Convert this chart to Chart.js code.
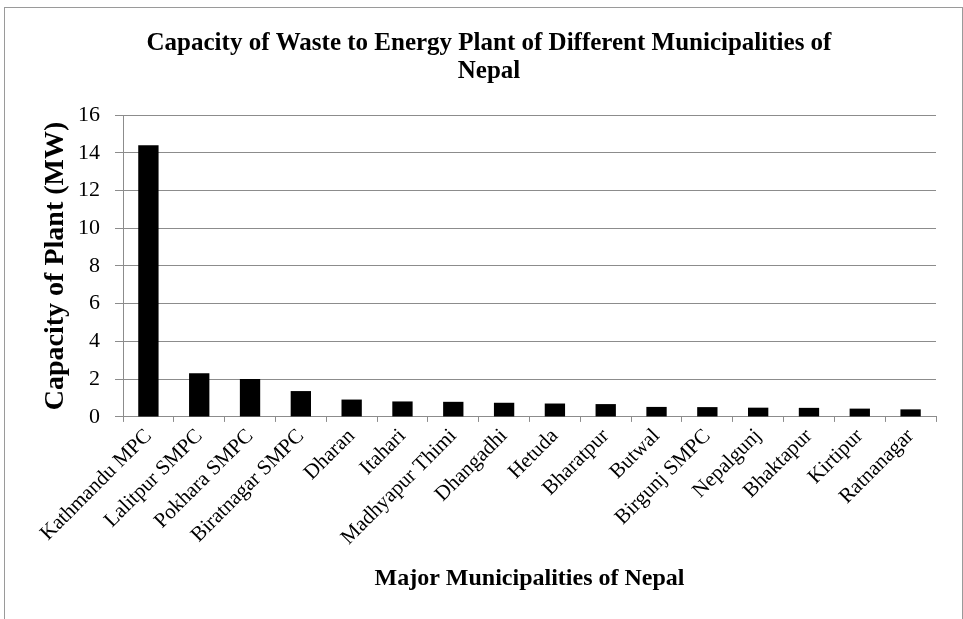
<!DOCTYPE html>
<html>
<head>
<meta charset="utf-8">
<title>Waste to Energy Plant Capacity</title>
<script src="https://cdn.jsdelivr.net/npm/chart.js@4.4.1/dist/chart.umd.min.js"></script>
<style>
    body { margin: 0; background: #fff; overflow: hidden; }
    #frame {
        position: absolute; left: 4px; top: 7px;
        width: 957px; height: 700px;
        border: 1px solid #9a9a9a;
    }
    #wrap { position: absolute; left: 0; top: 0; width: 963px; height: 619px; }
</style>
</head>
<body>
<div id="frame"></div>
<div id="wrap"><canvas id="myChart" width="963" height="619"></canvas></div>
<script>
// municipalities and plant capacity (MW)
const municipalities = [
    "Kathmandu MPC", "Lalitpur SMPC", "Pokhara SMPC", "Biratnagar SMPC",
    "Dharan", "Itahari", "Madhyapur Thimi", "Dhangadhi", "Hetuda",
    "Bharatpur", "Butwal", "Birgunj SMPC", "Nepalgunj", "Bhaktapur",
    "Kirtipur", "Ratnanagar"
];
const capacityMW = [
    14.4, 2.31, 2.01, 1.37,
    0.92, 0.82, 0.80, 0.75, 0.71,
    0.68, 0.53, 0.52, 0.49, 0.48,
    0.44, 0.40
];
const yTicks = [0, 2, 4, 6, 8, 10, 12, 14, 16];

const serif = "'Liberation Serif', 'Times New Roman', serif";
const gridGray = "#8c8c8c";

const ctx = document.getElementById("myChart").getContext("2d");
new Chart(ctx, {
    type: "bar",
    data: {
        labels: municipalities,
        datasets: [
            {
                label: "Capacity of Plant (MW)",
                data: capacityMW,
                backgroundColor: "#000000",
                barPercentage: 0.4,
                categoryPercentage: 1.0
            }
        ]
    },
    options: {
        responsive: false,
        animation: false,
        layout: { padding: { left: 42, right: 27, top: 0, bottom: 26 } },
        plugins: {
            legend: { display: false },
            tooltip: { enabled: false },
            title: {
                display: true,
                text: ["Capacity of Waste to Energy Plant of Different Municipalities of", "Nepal"],
                color: "#000",
                font: { family: serif, size: 25, weight: "bold", lineHeight: 1.12 },
                padding: { top: 30, bottom: 29 }
            }
        },
        scales: {
            x: {
                // let the rotated first label hang left instead of pushing the plot area
                afterFit: function (scale) {
                    scale.paddingLeft = 0;
                },
                grid: {
                    display: true,
                    drawOnChartArea: false,
                    drawTicks: true,
                    tickLength: 5,
                    offset: true,
                    color: gridGray
                },
                border: { color: gridGray },
                ticks: {
                    autoSkip: false,
                    maxRotation: 45,
                    minRotation: 45,
                    padding: 2,
                    color: "#000",
                    font: { family: serif, size: 21 }
                },
                title: {
                    display: true,
                    text: "Major Municipalities of Nepal",
                    color: "#000",
                    font: { family: serif, size: 24, weight: "bold" },
                    padding: { top: 12, bottom: 0 }
                }
            },
            y: {
                min: 0,
                max: 16,
                afterBuildTicks: function (scale) {
                    scale.ticks = yTicks.map(v => ({ value: v }));
                },
                grid: {
                    color: gridGray,
                    drawTicks: true,
                    tickLength: 8
                },
                border: { color: gridGray },
                ticks: {
                    padding: 15,
                    color: "#000",
                    font: { family: serif, size: 22 }
                },
                title: {
                    display: true,
                    text: "Capacity of Plant (MW)",
                    color: "#000",
                    font: { family: serif, size: 28, weight: "bold", lineHeight: 1.0 },
                    padding: { top: 0, bottom: -7 }
                }
            }
        }
    }
});
</script>
</body>
</html>
